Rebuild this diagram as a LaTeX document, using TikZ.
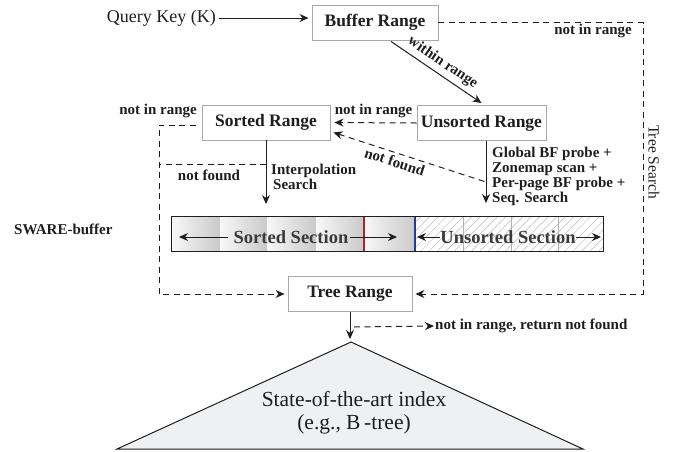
\documentclass[tikz,border=0pt]{standalone}
\usepackage{fontspec}
\setmainfont{Liberation Serif}
\usetikzlibrary{arrows.meta,patterns.meta,calc}
\definecolor{ink}{HTML}{1E1E1E}
\definecolor{boxline}{HTML}{A8A8A8}
\definecolor{trifill}{HTML}{EEF0F2}
\definecolor{redl}{HTML}{B0202A}
\definecolor{bluel}{HTML}{1F3C99}
\definecolor{bartext}{HTML}{3A3A3A}
\begin{document}
\begin{tikzpicture}[x=1pt,y=-1pt,
  every node/.style={text=ink},
  rbox/.style={draw=boxline, line width=0.9pt, fill=white, minimum height=35pt, inner sep=0pt,
    font=\bfseries\fontsize{17.5}{19}\selectfont},
  lab/.style={font=\bfseries\fontsize{15}{15}\selectfont, inner sep=1pt},
  arr/.style={-{Stealth[length=9pt,width=8pt]}, draw=ink, line width=1pt},
  darr/.style={arr, dash pattern=on 6pt off 4.5pt},
  dline/.style={draw=ink, line width=1pt, dash pattern=on 6pt off 4.5pt},
  scell/.style={left color=gray!6, right color=gray!42, draw=none},
  ucell/.style={fill=white, pattern={Lines[angle=45,distance=6pt,line width=0.5pt]}, pattern color=gray!55},
  barlab/.style={font=\bfseries\fontsize{18.5}{19}\selectfont, text=bartext, inner sep=0pt},
]
\useasboundingbox (0,0) rectangle (678,451);

% --- top row
\node[font=\fontsize{18}{19}\selectfont, anchor=east, inner sep=0pt] (qk) at (216,18) {Query Key (K)};
\node[rbox, minimum width=126pt] (buf) at (375,22.5) {Buffer Range};
\draw[arr, shorten <=3pt, shorten >=3pt] (qk.east) -- (buf.west |- qk.east);

% --- range boxes
\node[rbox, minimum width=129pt] (uns) at (481.5,123) {Unsorted Range};
\node[rbox, minimum width=128pt] (srt) at (266,122.5) {Sorted Range};
\node[rbox, minimum width=124pt] (tree) at (350,294) {Tree Range};

% within range
\draw[arr] ($(buf.south)+(16,1)$) -- ($(uns.north)+(0,-2)$)
  node[midway, sloped, above, lab, yshift=3pt] {within range};

% not in range (unsorted -> sorted)
\draw[darr, shorten >=4pt] (uns.west) -- (srt.east)
  node[midway, above, lab, yshift=3pt] {not in range};

% left loop: sorted not in range -> tree
\coordinate (lt) at (159,125);
\coordinate (lb) at (159,294);
\draw[darr, shorten >=3pt] ($(srt.west)+(-6,2.5)$) -- (lt) -- (lb) -- (tree.west);
\node[lab, anchor=east] (nir1) at (198,111) {not in range};

% not found from interpolation search
\coordinate (nf1) at (266,164);
\coordinate (nf2) at (159,164);
\draw[dline] (nf1) -- (nf2);
\node[lab] (nf) at (209,175) {not found};

% interpolation search arrow
\coordinate (ib) at (266,204);
\draw[arr] (srt.south) -- (ib);
\node[lab, anchor=north west, align=left] (ip) at (270,163) {Interpolation\\\hspace{2pt}Search};

% unsorted search arrow
\coordinate (ut) at ($(uns.south)+(4.5,0)$);
\coordinate (ub) at (486,203);
\draw[arr] (ut) -- (ub);
\node[lab, anchor=north west, align=left] (gb) at (491,146)
  {Global BF probe +\\Zonemap scan +\\Per-page BF probe +\\Seq. Search};

% not found from unsorted -> sorted
\coordinate (nfs) at (486,182);
\coordinate (nfe) at ($(srt.south east)+(3,-8)$);
\draw[dline, {Stealth[length=9pt,width=8pt]}-] (nfe) -- (nfs)
  node[pos=0.42, sloped, below, lab, yshift=-2pt] {not found};

% right loop: buffer not in range -> tree
\coordinate (tr) at (643,22.5);
\coordinate (br) at (643,294);
\draw[darr, shorten >=3pt] (buf.east) -- (tr) -- (br) -- (tree.east);
\node[lab] (nir0) at (593,31) {not in range};
\node[font=\fontsize{15.5}{16}\selectfont, rotate=-90, inner sep=0pt] (ts) at (654,162) {Tree Search};

% --- SWARE buffer
\node[lab, anchor=west] (sw) at (13,229) {SWARE-buffer};
\node[minimum width=431pt, minimum height=35pt, inner sep=0pt] (bar) at (387.5,234) {};
\fill[scell] (172,216.5) rectangle (220,251.5);
\fill[scell] (220,216.5) rectangle (267,251.5);
\fill[scell] (267,216.5) rectangle (316,251.5);
\fill[scell] (316,216.5) rectangle (364,251.5);
\fill[scell] (364,216.5) rectangle (415,251.5);
\foreach \a/\b in {415/463,463/511,511/558,558/603}{
  \path[ucell] (\a,216.5) rectangle (\b,251.5);
  \draw[gray!60, line width=0.6pt] (\a,216.5) rectangle (\b,251.5);
}
\draw[redl, line width=2.2pt] (364,216.5) -- (364,251.5);
\draw[bluel, line width=2.2pt] (415,216.5) -- (415,251.5);
\draw[ink, line width=1pt] (bar.north west) rectangle (bar.south east);

\node[barlab] (ss) at (291,237) {Sorted Section};
\coordinate (ssl) at (179,237);
\coordinate (ssr) at (397,237);
\draw[arr] ([xshift=-6pt]ss.west) -- (ssl);
\draw[arr] ([xshift=2pt]ss.east) -- (ssr);
\node[barlab] (us) at (508,237) {Unsorted Section};
\coordinate (usl) at (417,237);
\coordinate (usr) at (601,237);
\draw[arr] (us.west) -- (usl);
\draw[arr] (us.east) -- (usr);

% --- tree range to index
\coordinate (ta) at (350,339);
\draw[arr] (tree.south) -- (ta);
\coordinate (n1) at (354,327);
\node[lab, anchor=west] (nr) at (434,326) {not in range, return not found};
\draw[darr] (n1) -- (nr.west);

% triangle
\coordinate (apex) at (351,342);
\coordinate (bl) at (117,449);
\coordinate (brr) at (583,449);
\draw[ink, fill=trifill, line width=1pt] (apex) -- (brr) -- (bl) -- cycle;
\node[font=\fontsize{21.5}{23}\selectfont, align=center, inner sep=0pt] (idx) at (354,413)
  {State-of-the-art index\\(e.g., B\,-tree)};
\end{tikzpicture}
\end{document}
